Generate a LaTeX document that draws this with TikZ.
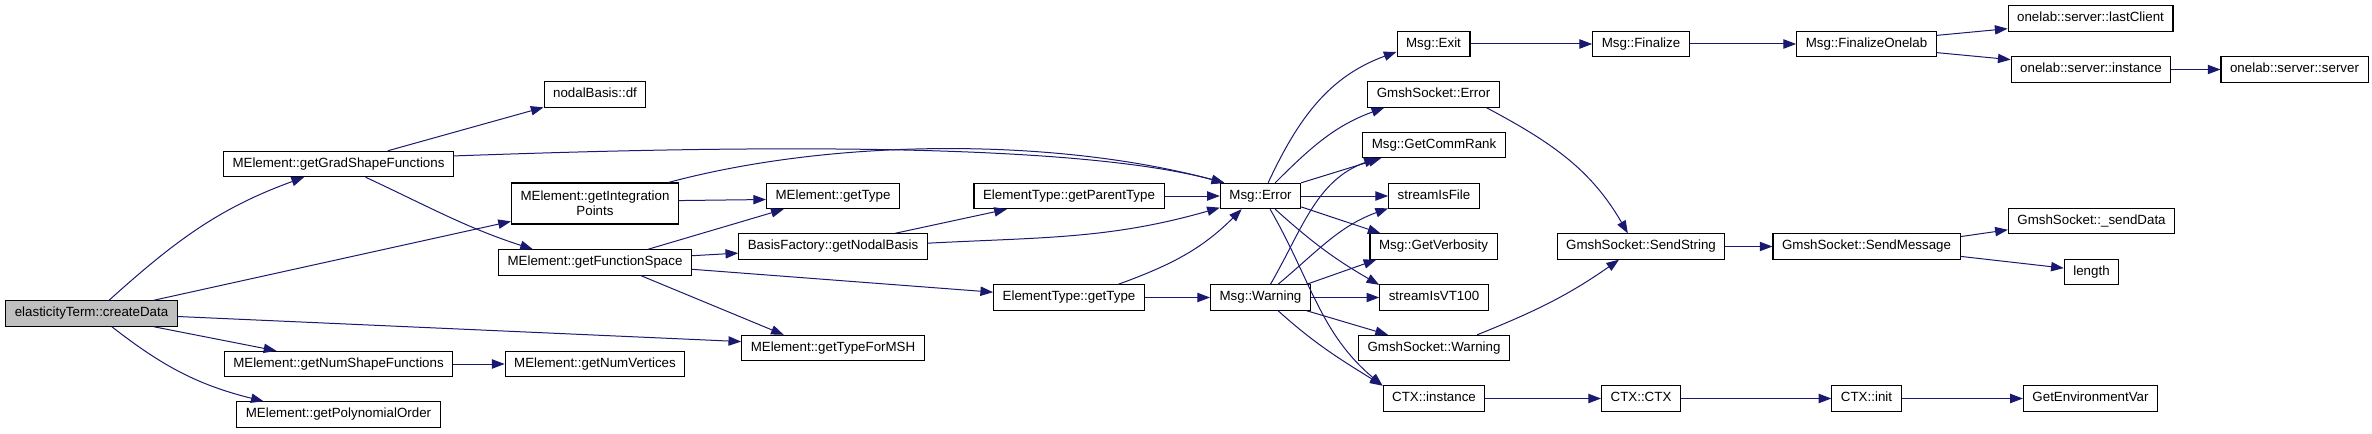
\documentclass[tikz,border=0pt]{standalone}
\usepackage{fontspec}
\setmainfont{Liberation Sans}
\usetikzlibrary{arrows.meta}
\definecolor{edgeblue}{HTML}{191970}

\begin{document}
\begin{tikzpicture}[x=0.75pt, y=0.75pt, >={Triangle[length=9.5pt,width=7pt]},
	func/.style={draw=black, line width=0.8pt, fill=white, inner xsep=6.8pt, inner ysep=0pt,
		minimum height=19pt, font=\fontsize{10}{11.5}\selectfont},
	single/.style={func, text height=7pt, text depth=2pt},
	root/.style={single, fill=gray!50},
	call/.style={->, draw=edgeblue, line width=0.75pt}]
	
	\useasboundingbox (0,0) rectangle (2372,433);
	
	% --- FUNCIONES MElement ---
	\node[root] (createData) at (91.5,119.5) {elasticityTerm::createData};
	\node[single] (gradShape) at (338.5,269) {MElement::getGradShapeFunctions};
	\node[single] (numShape) at (338.5,69) {MElement::getNumShapeFunctions};
	\node[single] (polyOrder) at (338.5,18.5) {MElement::getPolynomialOrder};
	\node[single] (nodalDf) at (595,338.5) {nodalBasis::df};
	\node[func, align=center, minimum height=30.75pt] (integPts) at (595,229.5) {MElement::getIntegration\\Points};
	\node[single] (funcSpace) at (595,170.5) {MElement::getFunctionSpace};
	\node[single] (numVert) at (595,69) {MElement::getNumVertices};
	\node[single] (elemType) at (833,237) {MElement::getType};
	\node[single] (nodalBasis) at (833,186.5) {BasisFactory::getNodalBasis};
	\node[single] (typeMSH) at (833,85) {MElement::getTypeForMSH};
	\node[single] (parentType) at (1069,237) {ElementType::getParentType};
	\node[single] (etType) at (1069,135.5) {ElementType::getType};
	
	% --- MENSAJES ---
	\node[single] (msgError) at (1260.5,237) {Msg::Error};
	\node[single] (msgWarning) at (1260.5,135.5) {Msg::Warning};
	\node[single] (msgExit) at (1433.5,389) {Msg::Exit};
	\node[single] (gsError) at (1433.5,338.5) {GmshSocket::Error};
	\node[single] (commRank) at (1434,288) {Msg::GetCommRank};
	\node[single] (isFile) at (1434,237) {streamIsFile};
	\node[single] (verbosity) at (1433.5,186.5) {Msg::GetVerbosity};
	\node[single] (isVT) at (1434,135.5) {streamIsVT100};
	\node[single] (gsWarning) at (1434,85) {GmshSocket::Warning};
	\node[single] (ctxInst) at (1434,34.5) {CTX::instance};
	
	% --- LADO DERECHO ---
	\node[single] (finalize) at (1641,389) {Msg::Finalize};
	\node[single] (finOnelab) at (1866.5,389) {Msg::FinalizeOnelab};
	\node[single] (lastClient) at (2090.5,414.5) {onelab::server::lastClient};
	\node[single] (srvInst) at (2091,363.5) {onelab::server::instance};
	\node[single] (srvServer) at (2294.5,363.5) {onelab::server::server};
	\node[single] (sendString) at (1641,186.5) {GmshSocket::SendString};
	\node[single] (sendMsg) at (1866.5,186.5) {GmshSocket::SendMessage};
	\node[single] (sendData) at (2091.5,212) {GmshSocket::\_sendData};
	\node[single] (len) at (2091.5,161) {length};
	\node[single] (ctxCtx) at (1641,34.5) {CTX::CTX};
	\node[single] (ctxInit) at (1866.5,34.5) {CTX::init};
	\node[single] (envVar) at (2090.5,34.5) {GetEnvironmentVar};
	
	% --- LLAMADAS ---
	\draw[call] (createData.37) to[out=42,in=200] (gradShape.201);
	\draw[call] (createData.12) -- (integPts.192);
	\draw[call] (createData.358) -- (typeMSH.176);
	\draw[call] (createData.-12) -- (numShape.168);
	\draw[call] (createData.-33) to[out=-38,in=166] (polyOrder.170);
	
	\draw[call] (gradShape.15) -- (nodalDf.194);
	\draw[call] (gradShape.4) to[out=2,in=165,looseness=0.6] (msgError.160);
	\draw[call] (gradShape.-26) to[out=-25,in=162] (funcSpace.168);
	\draw[call] (integPts.16) to[out=15,in=165,looseness=0.8] (msgError.160);
	\draw[call] (integPts.2) -- (elemType.183);
	\draw[call] (funcSpace.14) -- (elemType.195);
	\draw[call] (funcSpace.4) -- (nodalBasis.184);
	\draw[call] (funcSpace.-4) -- (etType.176);
	\draw[call] (funcSpace.-16) -- (typeMSH.165);
	\draw[call] (numShape) -- (numVert);
	
	\draw[call] (nodalBasis.12) -- (parentType.192);
	\draw[call] (nodalBasis.2) to[out=3,in=196] (msgError.196);
	\draw[call] (parentType) -- (msgError);
	\draw[call] (etType.15) to[out=20,in=225] (msgError.215);
	\draw[call] (etType) -- (msgWarning);
	
	% Msg::Error
	\draw[call] (msgError.60) to[out=65,in=200] (msgExit.192);
	\draw[call] (msgError.42) to[out=45,in=200] (gsError.195);
	\draw[call] (msgError.18) -- (commRank.194);
	\draw[call] (msgError) -- (isFile);
	\draw[call] (msgError.-15) -- (verbosity.166);
	\draw[call] (msgError.-42) to[out=-42,in=150] (isVT.167);
	\draw[call] (msgError.-54) to[out=-60,in=140] (ctxInst.166);
	
	% Msg::Warning
	\draw[call] (msgWarning.53) to[out=60,in=200] (commRank.193);
	\draw[call] (msgWarning.37) to[out=40,in=200] (isFile.195);
	\draw[call] (msgWarning.16) -- (verbosity.193);
	\draw[call] (msgWarning) -- (isVT);
	\draw[call] (msgWarning.-16) -- (gsWarning.164);
	\draw[call] (msgWarning.-37) to[out=-42,in=148] (ctxInst.166);
	
	\draw[call] (msgExit) -- (finalize);
	\draw[call] (finalize) -- (finOnelab);
	\draw[call] (finOnelab.7) -- (lastClient.187);
	\draw[call] (finOnelab.-7) -- (srvInst.173);
	\draw[call] (srvInst) -- (srvServer);
	\draw[call] (gsError.-14) to[out=-28,in=120] (sendString.135);
	\draw[call] (gsWarning.17) to[out=22,in=215] (sendString.211);
	\draw[call] (sendString) -- (sendMsg);
	\draw[call] (sendMsg.6) -- (sendData.186);
	\draw[call] (sendMsg.-6) -- (len.172);
	\draw[call] (ctxInst) -- (ctxCtx);
	\draw[call] (ctxCtx) -- (ctxInit);
	\draw[call] (ctxInit) -- (envVar);
	
\end{tikzpicture}
\end{document}
